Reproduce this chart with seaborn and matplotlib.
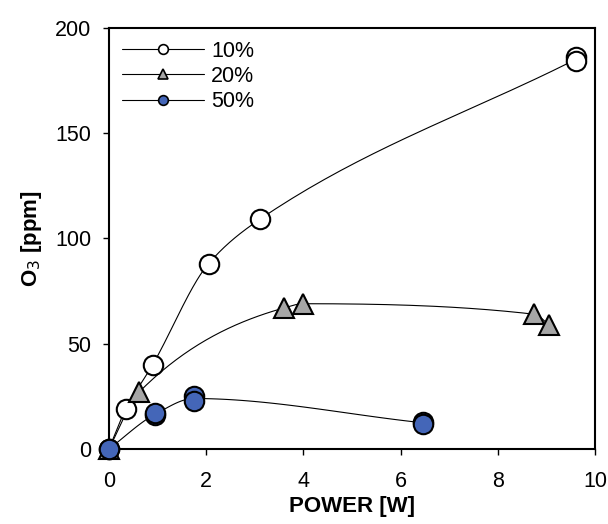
import numpy as np
import pandas as pd
import seaborn as sns
import matplotlib.pyplot as plt

power_10 = [0.0, 0.35, 0.9, 2.05, 3.1, 9.6, 9.6]
o3_10 = [0.0, 19, 40, 88, 109, 186, 184]

power_20 = [0.0, 0.62, 3.6, 4.0, 8.75, 9.05]
o3_20 = [0.0, 27, 67, 69, 64, 59]

power_50 = [0.0, 0.95, 0.95, 1.75, 1.75, 6.45, 6.45]
o3_50 = [0.0, 16, 17, 25, 23, 13, 12]

series = ["10%", "20%", "50%"]

frames = []
for name, xs, ys in zip(series, [power_10, power_20, power_50], [o3_10, o3_20, o3_50]):
    frames.append(pd.DataFrame({"power": xs, "o3": ys, "conc": name}))
df = pd.concat(frames, ignore_index=True)


def smooth(x, y, n=40):
    # monotone cubic (pchip-like) curve through the points, drawn as a smoothed line
    x = np.asarray(x, float)
    y = np.asarray(y, float)
    h = np.diff(x)
    d = np.diff(y) / h
    m = np.zeros_like(y)
    for i in range(1, len(x) - 1):
        if d[i - 1] * d[i] > 0:
            w1 = 2 * h[i] + h[i - 1]
            w2 = h[i] + 2 * h[i - 1]
            m[i] = (w1 + w2) / (w1 / d[i - 1] + w2 / d[i])
    m[0] = d[0]
    m[-1] = d[-1]
    xs, ys = [], []
    for i in range(len(x) - 1):
        t = np.linspace(0, 1, n)
        h00 = 2 * t**3 - 3 * t**2 + 1
        h10 = t**3 - 2 * t**2 + t
        h01 = -2 * t**3 + 3 * t**2
        h11 = t**3 - t**2
        xs.append(x[i] + t * h[i])
        ys.append(h00 * y[i] + h10 * h[i] * m[i] + h01 * y[i + 1] + h11 * h[i] * m[i + 1])
    return pd.DataFrame({"power": np.concatenate(xs), "o3": np.concatenate(ys)})


sns.set_style("ticks")
plt.rcParams["font.family"] = ["Liberation Sans", "DejaVu Sans"]
plt.rcParams["text.color"] = "black"
plt.rcParams["xtick.color"] = "black"
plt.rcParams["ytick.color"] = "black"
plt.rcParams["axes.labelcolor"] = "black"

fig, ax = plt.subplots(figsize=(6.08, 5.24), dpi=100)

styles = {
    "10%": dict(marker="o", mfc="white", ms=14),
    "20%": dict(marker="^", mfc="#a6a6a6", ms=15),
    "50%": dict(marker="o", mfc="#4466b8", ms=14),
}

for name in series:
    sub = df[df["conc"] == name]
    line = sub.groupby("power", as_index=False)["o3"].mean()
    curve = smooth(line["power"], line["o3"])
    sns.lineplot(data=curve, x="power", y="o3", ax=ax, color="black", lw=0.8,
                 estimator=None, sort=False, legend=False)
    ax.plot(sub["power"], sub["o3"], ls="none", marker=styles[name]["marker"],
            mfc=styles[name]["mfc"], mec="black", mew=1.5, ms=styles[name]["ms"],
            zorder=3)

# legend handles
handles = []
for name in series:
    s = styles[name]
    h, = ax.plot([], [], color="black", lw=0.8, marker=s["marker"], mfc=s["mfc"],
                 mec="black", mew=1.2, ms=7)
    handles.append(h)
ax.legend(handles, series, loc="upper left", frameon=False, fontsize=15.5,
          handlelength=3.8, handletextpad=0.35, labelspacing=0.2,
          borderaxespad=0.2, bbox_to_anchor=(0.0, 1.0))

ax.set_xlim(0, 10)
ax.set_ylim(0, 200)
ax.set_xticks(range(0, 11, 2))
ax.set_yticks(range(0, 201, 50))
ax.set_xlabel("POWER [W]", fontsize=16, fontweight="bold", labelpad=3)
ax.set_ylabel("O$_3$ [ppm]", fontsize=16, fontweight="bold", labelpad=8)
ax.tick_params(labelsize=15.5, direction="out", length=4.5, width=1)
ax.tick_params(axis="x", pad=11)
ax.tick_params(axis="y", pad=8)
for sp in ax.spines.values():
    sp.set_visible(True)
    sp.set_linewidth(1.5)
    sp.set_color("black")
for c in ax.get_children():
    try:
        c.set_clip_on(False)
    except Exception:
        pass

fig.subplots_adjust(left=0.179, right=0.979, top=0.947, bottom=0.143)
fig.savefig("out.png", dpi=100)
